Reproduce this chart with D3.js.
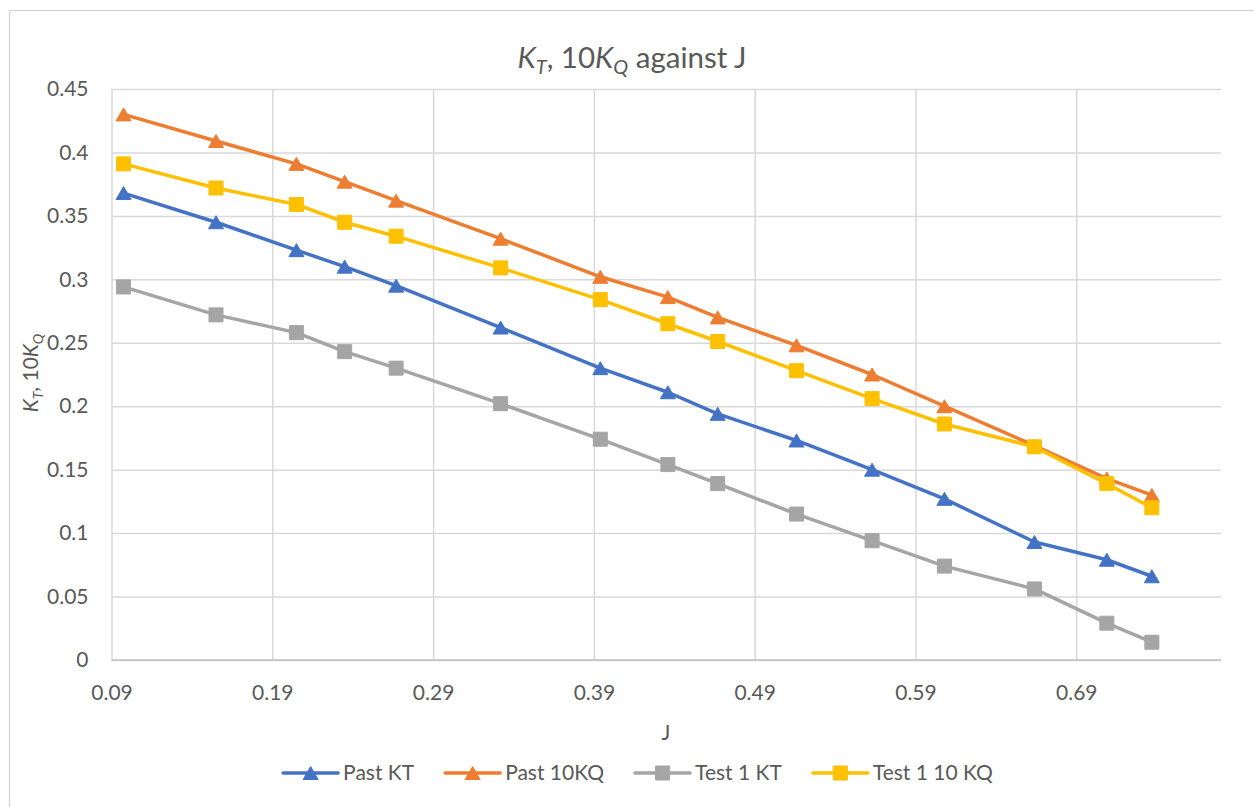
<!DOCTYPE html>
<html>
<head>
<meta charset="utf-8">
<script src="https://cdn.jsdelivr.net/npm/d3@7"></script>
<style>
  html, body { margin: 0; padding: 0; background: #fff; }
  svg { display: block; font-family: Lato, "Open Sans", sans-serif; }
</style>
</head>
<body>
<svg id="chart" width="1254" height="807"></svg>
<script>
// ---- Data ----
const J = [0.0975, 0.155, 0.205, 0.235, 0.267, 0.332, 0.394, 0.436, 0.467, 0.516, 0.563, 0.608, 0.664, 0.709, 0.737];
const pastKT   = [0.368, 0.345, 0.323, 0.310, 0.295, 0.262, 0.230, 0.211, 0.194, 0.173, 0.150, 0.127, 0.093, 0.079, 0.066];
const past10KQ = [0.430, 0.409, 0.391, 0.377, 0.362, 0.332, 0.302, 0.286, 0.270, 0.248, 0.225, 0.200, 0.169, 0.143, 0.130];
const test1KT  = [0.294, 0.272, 0.258, 0.243, 0.230, 0.202, 0.174, 0.154, 0.139, 0.115, 0.094, 0.074, 0.056, 0.029, 0.014];
const test1_10KQ = [0.391, 0.372, 0.359, 0.345, 0.334, 0.309, 0.284, 0.265, 0.251, 0.228, 0.206, 0.186, 0.168, 0.139, 0.120];
const seriesNames = ["Past KT", "Past 10KQ", "Test 1 KT", "Test 1 10 KQ"];
const xTicks = [0.09, 0.19, 0.29, 0.39, 0.49, 0.59, 0.69];
const yTicks = [0, 0.05, 0.1, 0.15, 0.2, 0.25, 0.3, 0.35, 0.4, 0.45];

// ---- Styles ----
const seriesStyle = [
  { color: "#4472C4", marker: "triangle" },
  { color: "#ED7D31", marker: "triangle" },
  { color: "#A5A5A5", marker: "square" },
  { color: "#FFC000", marker: "square" }
];
const seriesValues = [pastKT, past10KQ, test1KT, test1_10KQ];

const svg = d3.select("#chart");
const textColor = "#595959";
const gridColor = "#d9d9d9";

// chart border
svg.append("rect").attr("x", 9.5).attr("y", 10.5).attr("width", 1300).attr("height", 900)
  .attr("fill", "#fff").attr("stroke", gridColor).attr("stroke-width", 1.5);

const plot = { left: 111.5, right: 1221, top: 89, bottom: 660 };
const x = d3.scaleLinear().domain([0.09, 0.78]).range([plot.left, plot.right]);
const y = d3.scaleLinear().domain([0, 0.45]).range([plot.bottom, plot.top]);

// y axis + horizontal gridlines
const yAxis = svg.append("g").attr("transform", `translate(${plot.left},0)`)
  .call(d3.axisLeft(y).tickValues(yTicks).tickFormat(d3.format("~g"))
    .tickSize(-(plot.right - plot.left)).tickPadding(23));
yAxis.select(".domain").remove();
yAxis.selectAll(".tick line").attr("stroke", gridColor).attr("stroke-width", 1.5);
yAxis.selectAll(".tick text").attr("fill", textColor).attr("font-size", 21)
  .attr("font-family", "Lato, sans-serif");

// x axis + vertical gridlines
const xAxis = svg.append("g").attr("transform", `translate(0,${plot.bottom})`)
  .call(d3.axisBottom(x).tickValues(xTicks).tickFormat(d3.format(".2f"))
    .tickSize(-(plot.bottom - plot.top)).tickPadding(25));
xAxis.select(".domain").remove();
xAxis.selectAll(".tick line").attr("stroke", gridColor).attr("stroke-width", 1.5);
xAxis.selectAll(".tick text").attr("fill", textColor).attr("font-size", 21)
  .attr("font-family", "Lato, sans-serif");
// bottom axis line
svg.append("line").attr("x1", plot.left).attr("x2", plot.right)
  .attr("y1", y(0)).attr("y2", y(0)).attr("stroke", "#bfbfbf").attr("stroke-width", 1.5);

// markers
function markerPath(type, cx, cy) {
  if (type === "triangle") {
    const w = 15, h = 13;
    return `M${cx},${cy - h / 2}L${cx + w / 2},${cy + h / 2}L${cx - w / 2},${cy + h / 2}Z`;
  } else {
    const s = 14;
    return `M${cx - s / 2},${cy - s / 2}h${s}v${s}h${-s}Z`;
  }
}

const line = d3.line().x(d => x(d[0])).y(d => y(d[1]));

seriesValues.forEach((vals, i) => {
  const pts = J.map((j, k) => [j, vals[k]]);
  const st = seriesStyle[i];
  const g = svg.append("g");
  g.append("path").attr("d", line(pts)).attr("fill", "none")
    .attr("stroke", st.color).attr("stroke-width", 3.5)
    .attr("stroke-linejoin", "round").attr("stroke-linecap", "round");
  g.selectAll("path.m").data(pts).enter().append("path").attr("class", "m")
    .attr("d", d => markerPath(st.marker, x(d[0]), y(d[1])))
    .attr("fill", st.color).attr("stroke", st.color).attr("stroke-width", 1);
});

// title
const title = svg.append("text").attr("x", 632).attr("y", 68).attr("text-anchor", "middle")
  .attr("font-size", 29.5).attr("fill", textColor);
title.append("tspan").attr("font-style", "italic").text("K");
title.append("tspan").attr("font-style", "italic").attr("font-size", 20).attr("dy", 6).text("T");
title.append("tspan").attr("dy", -6).text(", 10");
title.append("tspan").attr("font-style", "italic").text("K");
title.append("tspan").attr("font-style", "italic").attr("font-size", 20).attr("dy", 6).text("Q");
title.append("tspan").attr("dy", -6).text(" against J");

// y axis title
const yt = svg.append("text").attr("transform", "translate(38,373) rotate(-90)")
  .attr("text-anchor", "middle").attr("font-size", 21).attr("fill", textColor);
yt.append("tspan").attr("font-style", "italic").text("K");
yt.append("tspan").attr("font-style", "italic").attr("font-size", 14).attr("dy", 5).text("T");
yt.append("tspan").attr("dy", -5).text(", 10");
yt.append("tspan").attr("font-style", "italic").text("K");
yt.append("tspan").attr("font-style", "italic").attr("font-size", 14).attr("dy", 5).text("Q");

// x axis title
svg.append("text").attr("x", 666).attr("y", 740).attr("text-anchor", "middle")
  .attr("font-size", 21).attr("fill", textColor).text("J");

// legend
const legend = svg.append("g");
const lineLen = 55, gapText = 5, gapItem = 31, ly = 773;
let cursor = 0;
seriesNames.forEach((name, i) => {
  const g = legend.append("g");
  const st = seriesStyle[i];
  g.append("line").attr("x1", 0).attr("x2", lineLen).attr("y1", 0).attr("y2", 0)
    .attr("stroke", st.color).attr("stroke-width", 3.5).attr("stroke-linecap", "round");
  g.append("path").attr("d", markerPath(st.marker, lineLen / 2, 0))
    .attr("fill", st.color).attr("stroke", st.color);
  const t = g.append("text").attr("x", lineLen + gapText).attr("y", 0).attr("dy", "0.35em")
    .attr("font-size", 21).attr("fill", textColor).text(name);
  const w = lineLen + gapText + t.node().getComputedTextLength();
  g.attr("transform", `translate(${cursor},${ly})`);
  cursor += w + gapItem;
});
const total = cursor - gapItem;
legend.attr("transform", `translate(${638 - total / 2},0)`);
</script>
</body>
</html>
